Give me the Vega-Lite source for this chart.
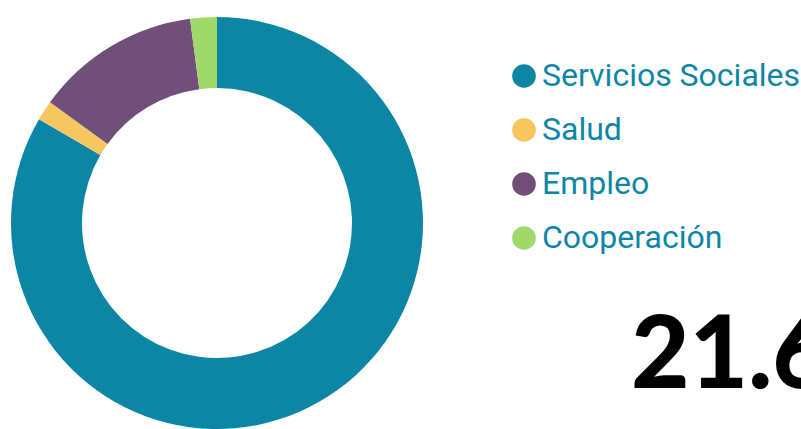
{
  "$schema": "https://vega.github.io/schema/vega-lite/v6.json",
  "width": 434,
  "height": 446,
  "autosize": {"type": "none"},
  "padding": {"left": 0, "top": 0, "right": 367, "bottom": 0},
  "background": "white",
  "view": {"stroke": null},
  "title": {
    "text": "21.6M",
    "orient": "top",
    "anchor": "start",
    "frame": "group",
    "offset": 0,
    "dx": 631,
    "dy": 489,
    "baseline": "alphabetic",
    "font": "Lato",
    "fontWeight": 900,
    "fontSize": 101,
    "color": "#000000"
  },
  "data": {
    "values": [
      {"area": "Servicios Sociales", "pct": 83.4, "orden": 1},
      {"area": "Salud", "pct": 1.56, "orden": 2},
      {"area": "Empleo", "pct": 12.95, "orden": 3},
      {"area": "Cooperación", "pct": 2.09, "orden": 4}
    ]
  },
  "mark": {"type": "arc", "outerRadius": 206, "innerRadius": 135},
  "encoding": {
    "theta": {"field": "pct", "type": "quantitative", "stack": true},
    "order": {"field": "orden", "type": "quantitative"},
    "color": {
      "field": "area",
      "type": "nominal",
      "scale": {
        "domain": ["Servicios Sociales", "Salud", "Empleo", "Cooperación"],
        "range": ["#0d86a6", "#f6c75f", "#714f7b", "#a0d86a"]
      },
      "legend": {
        "orient": "none",
        "legendX": 508,
        "legendY": 60,
        "title": null,
        "padding": 0,
        "symbolType": "circle",
        "symbolSize": 560,
        "symbolStrokeWidth": 0,
        "symbolOffset": 0,
        "labelFont": "Roboto",
        "labelFontSize": 32,
        "labelColor": "#0d86a6",
        "labelOffset": 2,
        "labelLimit": 0,
        "rowPadding": 22
      }
    }
  }
}
